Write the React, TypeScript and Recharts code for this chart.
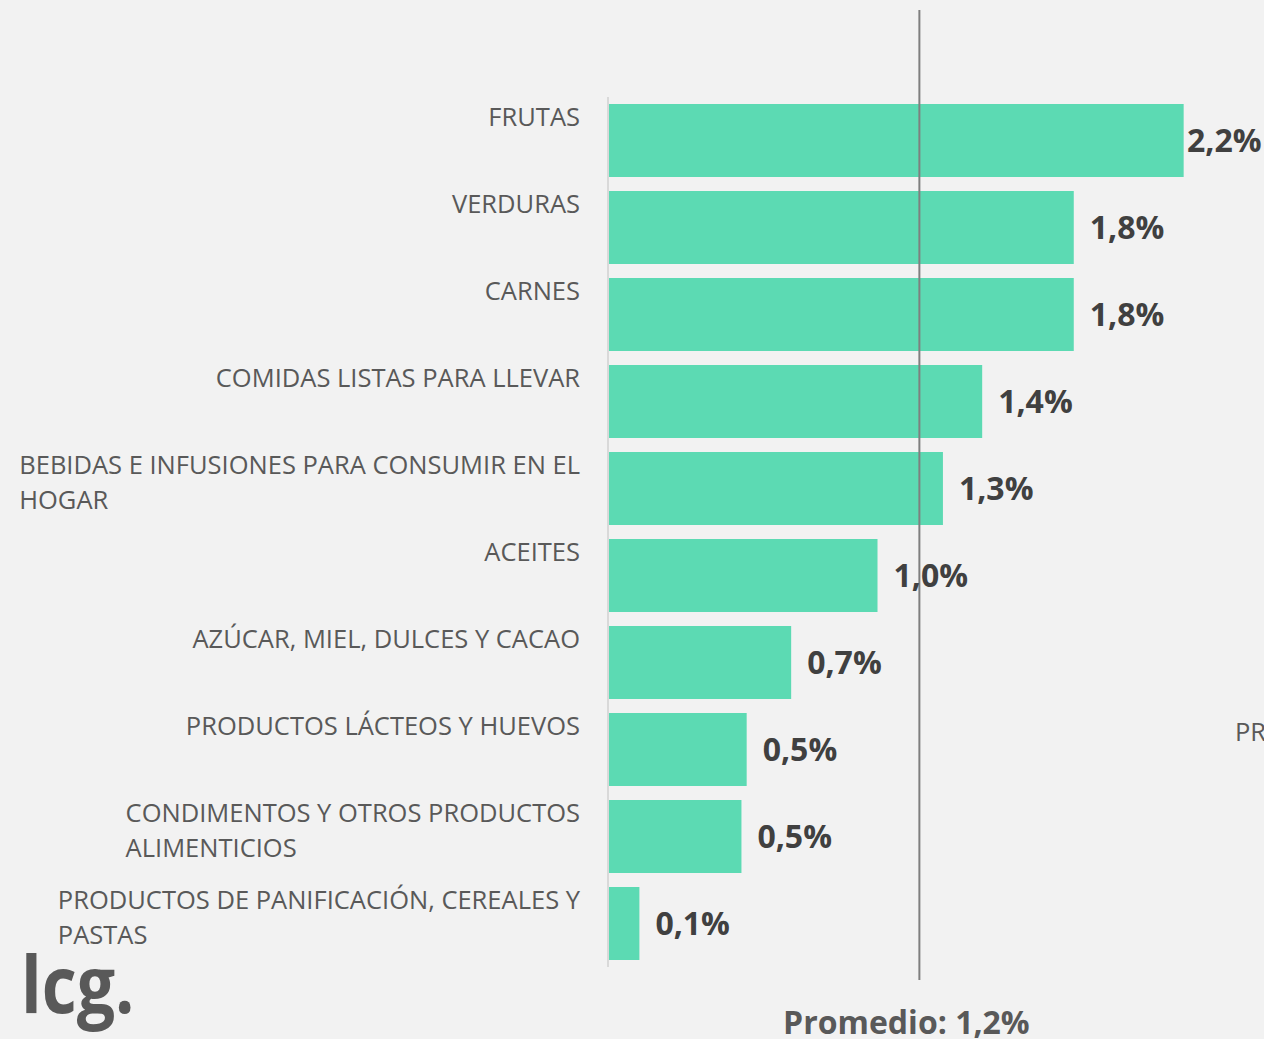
import React from 'react'
import { BarChart, Bar, XAxis, YAxis, ReferenceLine, LabelList } from 'recharts'

/* ─── Data ─── */

const categories = [
  'FRUTAS',
  'VERDURAS',
  'CARNES',
  'COMIDAS LISTAS PARA LLEVAR',
  'BEBIDAS E INFUSIONES PARA CONSUMIR EN EL HOGAR',
  'ACEITES',
  'AZÚCAR, MIEL, DULCES Y CACAO',
  'PRODUCTOS LÁCTEOS Y HUEVOS',
  'CONDIMENTOS Y OTROS PRODUCTOS ALIMENTICIOS',
  'PRODUCTOS DE PANIFICACIÓN, CEREALES Y PASTAS',
]

const values = [2.2, 1.78, 1.78, 1.43, 1.28, 1.03, 0.7, 0.53, 0.51, 0.12]

const average = 1.19

const xDomain = [0, 2.4]

const data = categories.map((name, i) => ({ name, value: values[i] }))

/* ─── Helpers ─── */

const W = 1264
const H = 1039
const BG = '#f2f2f2'
const BAR = '#5cdab3'
const FONT = '"Open Sans", "Noto Sans", sans-serif'
const LABEL_SIZE = 25.5

function pct(v: number): string {
  return v.toFixed(1).replace('.', ',') + '%'
}

function wrap(text: string, maxChars: number): string[] {
  const words = text.split(' ')
  const lines: string[] = []
  let cur = ''
  for (const w of words) {
    const next = cur ? cur + ' ' + w : w
    if (next.length > maxChars && cur) {
      lines.push(cur)
      cur = w
    } else {
      cur = next
    }
  }
  if (cur) lines.push(cur)
  return lines
}

let ctx: CanvasRenderingContext2D | null = null
function measure(text: string): number {
  if (!ctx) ctx = document.createElement('canvas').getContext('2d')
  if (!ctx) return text.length * 14
  ctx.font = `${LABEL_SIZE}px "Open Sans"`
  return ctx.measureText(text).width
}

// block right-aligned to the axis, lines left-aligned inside the block
function CategoryTick({ x, y, payload }: any) {
  const lines = wrap(String(payload.value), 40)
  const blockW = Math.max(...lines.map(measure))
  const left = x - blockW
  return (
    <text x={left} y={y - 15} textAnchor="start" fill="#595959" fontSize={LABEL_SIZE} fontFamily={FONT}>
      {lines.map((l, i) => (
        <tspan key={i} x={left} dy={i === 0 ? 0 : 35}>
          {l}
        </tspan>
      ))}
    </text>
  )
}

function ValueLabel({ x, y, width, height, value }: any) {
  const tx = Math.min(Number(x) + Number(width) + 16, W - 2 - 75)
  return (
    <text
      x={tx}
      y={Number(y) + Number(height) / 2 + 11}
      fill="#404040"
      fontSize={32}
      fontWeight={700}
      fontFamily={FONT}
    >
      {pct(Number(value))}
    </text>
  )
}

function AvgLine(p: any) {
  const top = Math.min(p.y1, p.y2)
  const bottom = Math.max(p.y1, p.y2)
  return <line x1={p.x1} x2={p.x2} y1={top - 87} y2={bottom + 13} stroke="#7f7f7f" strokeWidth={2} />
}

function AvgLabel({ viewBox }: any) {
  const { x, y, height } = viewBox
  return (
    <text
      x={x - 13}
      y={y + height + 67}
      textAnchor="middle"
      fill="#595959"
      fontSize={32}
      fontWeight={700}
      fontFamily={FONT}
    >
      {'Promedio: ' + pct(average)}
    </text>
  )
}

/* ─── Main component ─── */

export default function App() {
  return (
    <div style={{ position: 'absolute', left: 0, top: 0, width: W, height: H, background: BG, overflow: 'hidden' }}>
      <BarChart
        width={W}
        height={H}
        data={data}
        layout="vertical"
        margin={{ top: 97, right: 28, bottom: 72, left: 0 }}
      >
        <XAxis type="number" domain={xDomain} hide />
        <YAxis
          type="category"
          dataKey="name"
          width={608}
          axisLine={{ stroke: '#d9d9d9', strokeWidth: 2 }}
          tickLine={false}
          tickSize={0}
          tickMargin={28}
          tick={<CategoryTick />}
          interval={0}
        />
        <Bar dataKey="value" fill={BAR} barSize={73} isAnimationActive={false}>
          <LabelList dataKey="value" content={<ValueLabel />} />
        </Bar>
        <ReferenceLine x={average} shape={AvgLine} label={<AvgLabel />} ifOverflow="visible" />
      </BarChart>

      <div
        style={{
          position: 'absolute',
          left: 21,
          top: 943,
          fontFamily: FONT,
          fontWeight: 700,
          fontSize: 79,
          color: '#595959',
          transform: 'scaleX(0.86)',
          transformOrigin: 'left top',
          lineHeight: 1,
        }}
      >
        lcg.
      </div>
      <div
        style={{
          position: 'absolute',
          left: 1235,
          top: 714,
          fontFamily: FONT,
          fontSize: LABEL_SIZE,
          color: '#595959',
          lineHeight: 1.4,
          whiteSpace: 'nowrap',
        }}
      >
        PR
      </div>
    </div>
  )
}
